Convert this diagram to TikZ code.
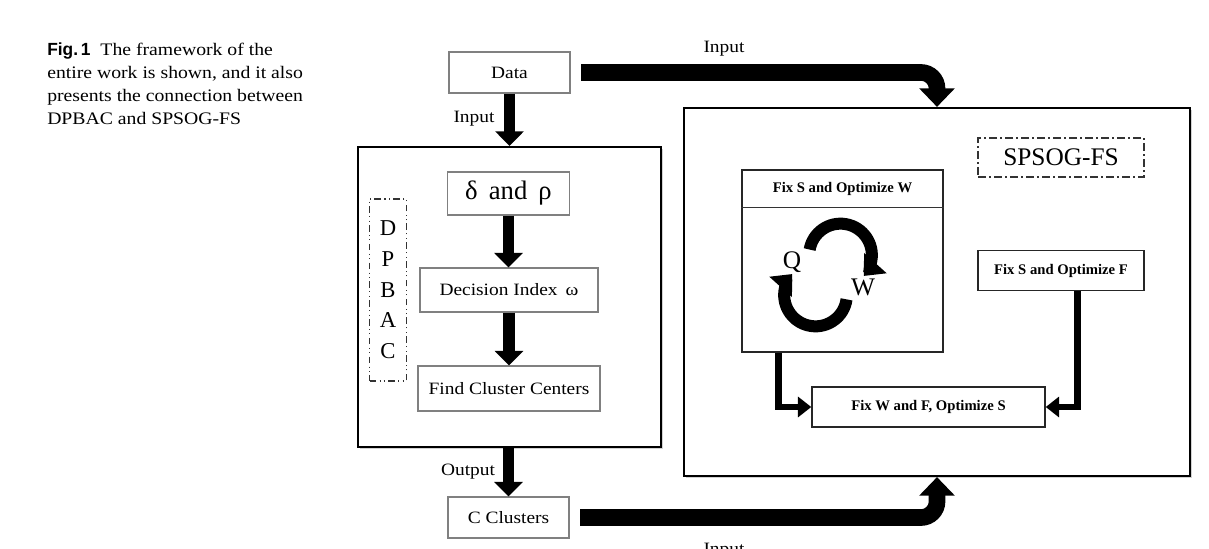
\documentclass[tikz,border=0pt]{standalone}
\usepackage{fontspec}
\usepackage{graphicx}
\setmainfont{Liberation Serif}
\setsansfont{Liberation Sans}
\usetikzlibrary{arrows.meta,shadows,calc}
\newcommand\pxu{*0.75pt}
\newcommand\wtext[1]{\scalebox{1.12}[1]{#1}}
\begin{document}
\begin{tikzpicture}[x=0.75pt,y=-0.75pt,
  box/.style={draw=black!50, line width=0.8pt, fill=white, inner sep=0pt, align=center},
  darkbox/.style={draw=black!85, line width=1.1pt, fill=white, inner sep=0pt, align=center},
  outerbox/.style={draw=black, line width=1.6pt, fill=white, inner sep=0pt,
     drop shadow={shadow xshift=1.2pt, shadow yshift=-1.2pt, fill=black!35}},
  lab/.style={font=\fontsize{13}{15}\selectfont},
  boldlab/.style={font=\fontsize{11}{13}\selectfont\bfseries},
  dashbox/.style={draw=black!80, line width=1pt, inner sep=0pt, align=center},
  vArrow/.style={line width=8.5pt, -{Triangle[width=21pt,length=11pt]}},
  bigArrow/.style={line width=12.5pt, rounded corners=12pt, -{Triangle[width=26pt,length=14pt]}},
  medArrow/.style={line width=5pt, -{Triangle[width=15pt,length=10pt]}},
  circArrow/.style={line width=9pt, -{Triangle[width=22pt,length=13pt]}}
]
\useasboundingbox (0,0) rectangle (1209,549);

% caption
\node[anchor=base west, inner sep=0pt] (cap) at (47,56)
  {\scalebox{1.12}[1]{\parbox[t]{220pt}{\raggedright\fontsize{13.2}{17.25}\selectfont
   {\sffamily\bfseries\scalebox{0.88}[1]{Fig.\,1}}\ \ The framework of the\\
   entire work is shown, and it also\\
   presents the connection between\\
   DPBAC and SPSOG-FS}}};

% outer boxes
\node[outerbox, minimum width=303\pxu, minimum height=300\pxu] (dp) at (509.5,297) {};
\node[outerbox, minimum width=506\pxu, minimum height=368\pxu] (sp) at (937,292) {};

% left column
\node[box, lab, minimum width=121\pxu, minimum height=41\pxu] (data) at (509.5,72.5) {\wtext{Data}};
\node[box, font=\fontsize{20}{22}\selectfont, minimum width=122\pxu, minimum height=43\pxu] (dr) at (508.5,193.5) {δ\, and\, ρ};
\node[box, lab, minimum width=178\pxu, minimum height=44\pxu] (di) at (509,290) {\wtext{Decision Index\, ω}};
\node[box, lab, minimum width=182\pxu, minimum height=45\pxu] (fc) at (509,388.5) {\wtext{Find Cluster Centers}};
\node[box, lab, minimum width=121\pxu, minimum height=41\pxu] (cc) at (508.5,517.5) {\wtext{C Clusters}};

\node[dashbox, dash pattern=on 5pt off 2.5pt on 0.8pt off 2.5pt on 0.8pt off 2.5pt,
      minimum width=37\pxu, minimum height=182\pxu,
      font=\fontsize{17}{23}\selectfont] (dpl) at (388,290) {D\\P\\B\\A\\C};

% labels
\node[lab, anchor=base] (in1) at (474,123) {\wtext{Input}};
\node[lab, anchor=base] (in2) at (724,53) {\wtext{Input}};
\node[lab, anchor=base] (out) at (468,475) {\wtext{Output}};
\node[lab, anchor=base] (in3) at (724,554) {\wtext{Input}};

% left arrows
\draw[vArrow] (data.south) -- (data.south |- dp.north);
\draw[vArrow] (dr.south) -- (dr.south |- di.north);
\draw[vArrow] (di.south) -- (di.south |- fc.north);
\draw[vArrow] (cc.north |- dp.south) -- (cc.north);

% big arrows
\draw[bigArrow] ([xshift=8pt]data.east) -| (sp.north);
\draw[bigArrow] ([xshift=8pt]cc.east) -| (sp.south);

% right side
\node[dashbox, dash pattern=on 6pt off 2.5pt on 1pt off 2.5pt,
      minimum width=166\pxu, minimum height=39\pxu,
      font=\fontsize{19}{21}\selectfont] (spl) at (1061,157.5) {SPSOG-FS};

\node[darkbox, minimum width=201\pxu, minimum height=182\pxu] (fw) at (842.5,261) {};
\draw[black!80, line width=0.8pt] ([yshift=-28.5pt]fw.north west) -- ([yshift=-28.5pt]fw.north east);
\node[boldlab] (fwt) at (842.5,189) {Fix S and Optimize W};

\node[darkbox, boldlab, minimum width=166\pxu, minimum height=40\pxu] (ff) at (1061,270.5) {Fix S and Optimize F};
\node[darkbox, boldlab, minimum width=233\pxu, minimum height=40\pxu] (fws) at (928.5,407) {Fix W and F, Optimize S};

\draw[medArrow] ([xshift=27.75pt]fw.south west) |- (fws.west);
\draw[medArrow] ([xshift=-50.25pt]ff.south east) |- (fws.east);

% cycle arrows
\draw[circArrow] (840.5,255) ++(170:23.5pt) arc[start angle=170, end angle=-42, radius=23.5pt];
\draw[circArrow] (815.5,295) ++(-8:23.5pt) arc[start angle=-8, end angle=-222, radius=23.5pt];
\node[font=\fontsize{19}{20}\selectfont] (q) at (792,262) {Q};
\node[font=\fontsize{19}{20}\selectfont] (w) at (863,287) {W};
\end{tikzpicture}
\end{document}
